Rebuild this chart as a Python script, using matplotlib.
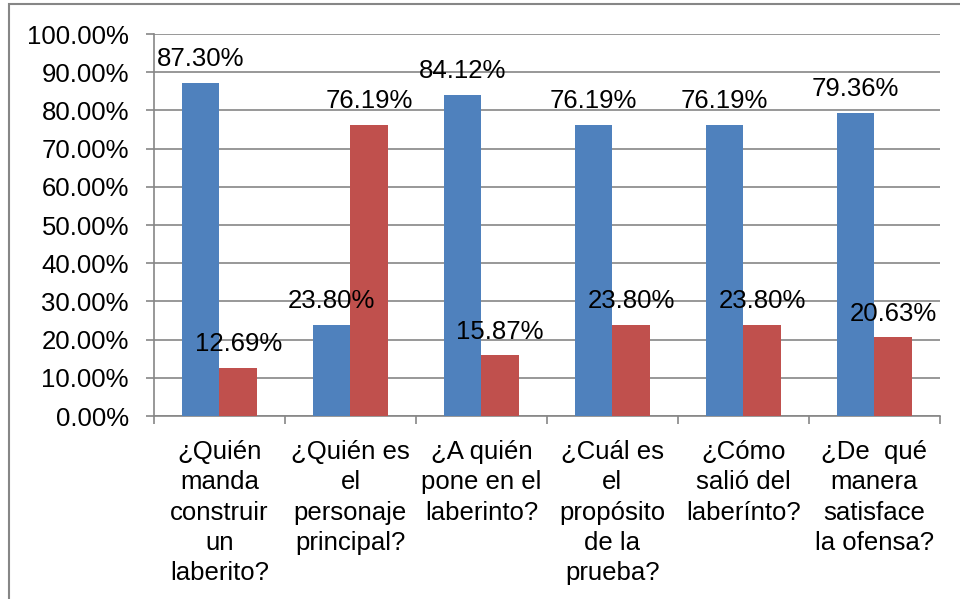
import numpy as np
import matplotlib.pyplot as plt
from matplotlib.patches import Rectangle

plt.rcParams['font.family'] = ['Liberation Sans', 'DejaVu Sans']

categories = [
    "¿Quién\nmanda\nconstruir\nun\nlaberito?",
    "¿Quién es\nel\npersonaje\nprincipal?",
    "¿A quién\npone en el\nlaberinto?",
    "¿Cuál es\nel\npropósito\nde la\nprueba?",
    "¿Cómo\nsalió del\nlaberínto?",
    "¿De  qué\nmanera\nsatisface\nla ofensa?",
]
serie_azul = [87.30, 23.80, 84.12, 76.19, 76.19, 79.36]
serie_roja = [12.69, 76.19, 15.87, 23.80, 23.80, 20.63]

azul = "#4F81BD"
rojo = "#C0504D"
gris = "#868686"

fig = plt.figure(figsize=(9.6, 5.99), dpi=100)
ax = fig.add_axes([0.1604, 0.3055, 0.8186, 0.6377])

x = np.arange(len(categories))
w = 0.285
b1 = ax.bar(x - w / 2, serie_azul, w, color=azul, zorder=3)
b2 = ax.bar(x + w / 2, serie_roja, w, color=rojo, zorder=3)

for bars, vals in [(b1, serie_azul), (b2, serie_roja)]:
    for bar, v in zip(bars, vals):
        ax.annotate(f"{v:.2f}%", (bar.get_x() + bar.get_width() / 2, v),
                    xytext=(0, 12), textcoords="offset points",
                    ha="center", va="baseline", fontsize=18.5, zorder=4)

ax.set_xlim(-0.5, len(categories) - 0.5)
ax.set_ylim(0, 100)
ax.set_yticks(np.arange(0, 101, 10))
ax.set_yticklabels([f"{t:.2f}%" for t in np.arange(0, 101, 10)])
ax.yaxis.grid(True, color=gris, linewidth=1.2, zorder=0)

ax.set_xticks(x)
ax.set_xticklabels(categories, fontsize=18.5, linespacing=1.34)
ax.set_xticks(np.arange(-0.5, len(categories), 1), minor=True)
ax.tick_params(axis="x", which="major", length=0, pad=17)
ax.tick_params(axis="x", which="minor", length=6, color=gris, width=1.2)
ax.tick_params(axis="y", length=6, color=gris, width=1.2, pad=12, labelsize=18.5)

for s in ["top", "right"]:
    ax.spines[s].set_visible(False)
for s in ["left", "bottom"]:
    ax.spines[s].set_color(gris)
    ax.spines[s].set_linewidth(1.2)

# marco exterior del gráfico
fig.patches.append(Rectangle((9 / 960, -0.1), 1.2, 1 - 4 / 599 + 0.1,
                             transform=fig.transFigure, fill=False,
                             edgecolor=gris, linewidth=1.5))

fig.savefig("out.png", dpi=100)
